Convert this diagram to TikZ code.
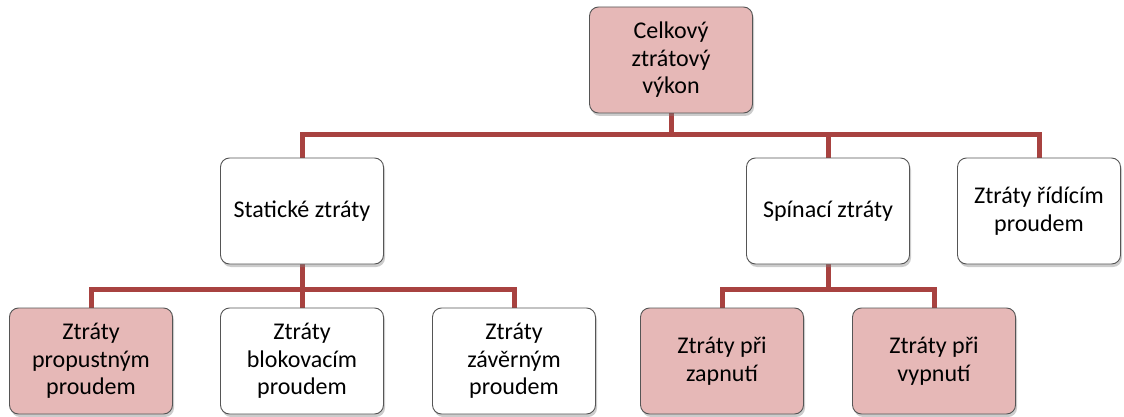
\documentclass[tikz,border=0pt]{standalone}
\usepackage{fontspec}
\setmainfont{Carlito}
\usetikzlibrary{shadows,backgrounds}
\definecolor{boxpink}{RGB}{230,184,183}
\definecolor{conncol}{RGB}{168,66,64}
\definecolor{boxline}{RGB}{85,85,85}
\tikzset{
  box/.style={draw=boxline, line width=0.9pt, rounded corners=9pt, minimum width=163pt, minimum height=106pt,
    align=center, font=\fontsize{24}{27.5}\selectfont, inner sep=2pt,
    drop shadow={opacity=0.4, shadow xshift=1.5pt, shadow yshift=-3pt}},
  pinkbox/.style={box, fill=boxpink},
  whitebox/.style={box, fill=white},
  conn/.style={draw=conncol, line width=5pt}
}
\begin{document}
\begin{tikzpicture}[x=1pt,y=1pt]
\useasboundingbox (0,0) rectangle (1124,-417);
\node[pinkbox] (top) at (671,-60) {Celkový\\ztrátový\\výkon};
\node[whitebox] (stat) at (302,-211) {Statické ztráty};
\node[whitebox] (spin) at (828,-211) {Spínací ztráty};
\node[whitebox] (rid) at (1039,-211) {Ztráty řídícím\\proudem};
\node[pinkbox] (prop) at (91,-361) {Ztráty\\propustným\\proudem};
\node[whitebox] (blok) at (302,-361) {Ztráty\\blokovacím\\proudem};
\node[whitebox] (zav) at (514,-361) {Ztráty\\závěrným\\proudem};
\node[pinkbox] (zap) at (722,-361) {Ztráty při\\zapnutí};
\node[pinkbox] (vyp) at (934,-361) {Ztráty při\\vypnutí};
\coordinate (busA) at (0,-135);
\coordinate (busB) at (0,-289);
\coordinate (busC) at (0,-289);
\begin{scope}[on background layer]
\draw[conn] (top.south) -- (top.south |- busA) -| (stat.north);
\draw[conn] (top.south |- busA) -| (spin.north);
\draw[conn] (top.south |- busA) -| (rid.north);
\draw[conn] (stat.south) -- (stat.south |- busB) -| (prop.north);
\draw[conn] (stat.south |- busB) -- (blok.north);
\draw[conn] (stat.south |- busB) -| (zav.north);
\draw[conn] (spin.south) -- (spin.south |- busC) -| (zap.north);
\draw[conn] (spin.south |- busC) -| (vyp.north);
\end{scope}
\end{tikzpicture}
\end{document}
